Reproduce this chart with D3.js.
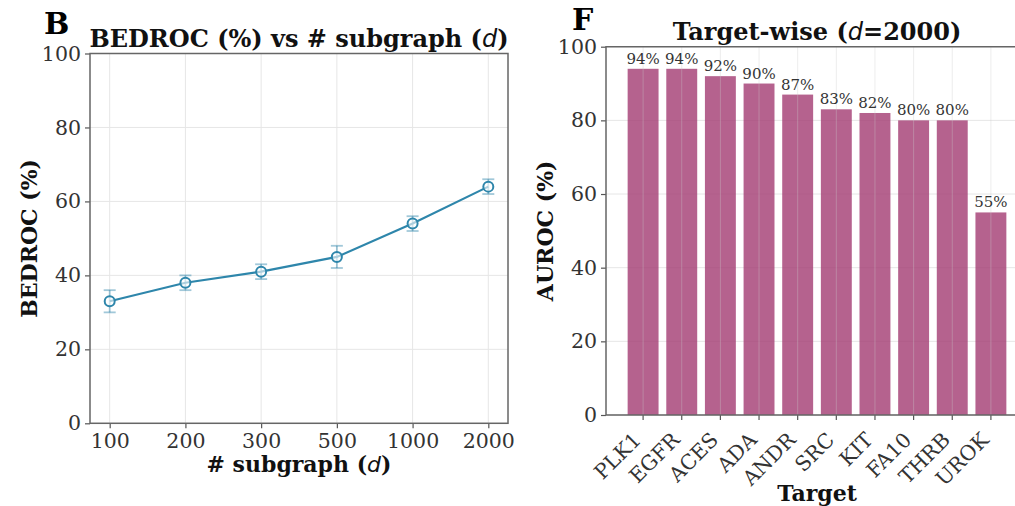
<!DOCTYPE html>
<html>
<head>
<meta charset="utf-8">
<script src="https://cdn.jsdelivr.net/npm/d3@7"></script>
<style>
  body { margin: 0; background: #fff; }
  svg { display: block; font-family: "DejaVu Serif", serif; overflow: hidden; }
  .axis text { fill: #333; font-size: 20.5px; font-family: "DejaVu Serif", serif; }
  .tick line { stroke: #555; stroke-width: 1.2; }
  .axis path.domain { display: none; }
  .grid line { stroke: #e6e6e6; stroke-width: 1; }
  .spine { stroke: #666; stroke-width: 1.5; fill: none; }
  .chart-title { font-weight: bold; font-size: 24px; text-anchor: middle; fill: #111; }
  .axis-title { font-weight: bold; font-size: 22px; text-anchor: middle; fill: #111; }
  .panel-letter { font-weight: bold; font-size: 30px; fill: #000; }
  .math { font-family: "DejaVu Sans", sans-serif; font-style: italic; font-weight: normal; }
  .bar-label { font-size: 15px; fill: #333; text-anchor: middle; }
</style>
</head>
<body>
<svg id="chart" width="1015" height="506"></svg>
<script>
// panel B: BEDROC vs number of subgraphs
const subgraphCats = ['100', '200', '300', '500', '1000', '2000'];
const bedrocMean = [33, 38, 41, 45, 54, 64];
const bedrocErr = [3, 2, 2, 3, 2, 2];

// panel F: target-wise AUROC at d=2000
const targets = ['PLK1', 'EGFR', 'ACES', 'ADA', 'ANDR', 'SRC', 'KIT', 'FA10', 'THRB', 'UROK'];
const aurocValues = [94, 94, 92, 90, 87, 83, 82, 80, 80, 55];

const yTicks = [0, 20, 40, 60, 80, 100];

const lineColor = '#2E86AB';
const barColor = '#A23B72';

const svg = d3.select('#chart');

// draws title with an italic math "d" inside
function mathText(sel, before, after) {
    sel.append('tspan').text(before);
    sel.append('tspan').attr('class', 'math').text('d');
    sel.append('tspan').text(after);
}

// ---------- left panel ----------
{
    const box = { left: 90, right: 508, top: 53.5, bottom: 423.3 };
    const x = d3.scalePoint().domain(subgraphCats).range([box.left, box.right]).padding(0.26);
    const y = d3.scaleLinear().domain([0, 100]).range([box.bottom, box.top]);
    const g = svg.append('g');

    // gridlines
    const grid = g.append('g').attr('class', 'grid');
    grid.selectAll('.gy').data(yTicks).join('line')
        .attr('x1', box.left).attr('x2', box.right)
        .attr('y1', d => y(d)).attr('y2', d => y(d));
    grid.selectAll('.gx').data(subgraphCats).join('line')
        .attr('x1', d => x(d)).attr('x2', d => x(d))
        .attr('y1', box.top).attr('y2', box.bottom);

    // axes
    g.append('g').attr('class', 'axis')
        .attr('transform', `translate(${box.left},0)`)
        .call(d3.axisLeft(y).tickValues(yTicks).tickSize(5).tickPadding(4));
    g.append('g').attr('class', 'axis')
        .attr('transform', `translate(0,${box.bottom})`)
        .call(d3.axisBottom(x).tickSize(5).tickPadding(4))
        .selectAll('text').attr('dy', '0.75em');

    g.append('rect').attr('class', 'spine')
        .attr('x', box.left).attr('y', box.top)
        .attr('width', box.right - box.left).attr('height', box.bottom - box.top);

    const pts = subgraphCats.map((c, i) => ({ c, m: bedrocMean[i], e: bedrocErr[i] }));

    // error bars with caps
    const eb = g.append('g').attr('stroke', lineColor).attr('stroke-opacity', 0.45).attr('stroke-width', 1.8);
    eb.selectAll('.v').data(pts).join('line')
        .attr('x1', d => x(d.c)).attr('x2', d => x(d.c))
        .attr('y1', d => y(d.m - d.e)).attr('y2', d => y(d.m + d.e));
    eb.selectAll('.cap-top').data(pts).join('line')
        .attr('x1', d => x(d.c) - 6).attr('x2', d => x(d.c) + 6)
        .attr('y1', d => y(d.m + d.e)).attr('y2', d => y(d.m + d.e));
    g.append('g').attr('stroke', lineColor).attr('stroke-opacity', 0.45).attr('stroke-width', 1.8)
        .selectAll('line').data(pts).join('line')
        .attr('x1', d => x(d.c) - 6).attr('x2', d => x(d.c) + 6)
        .attr('y1', d => y(d.m - d.e)).attr('y2', d => y(d.m - d.e));

    // line + hollow markers
    g.append('path').datum(pts)
        .attr('fill', 'none').attr('stroke', lineColor).attr('stroke-width', 2.2)
        .attr('d', d3.line().x(d => x(d.c)).y(d => y(d.m)));
    g.selectAll('.pt').data(pts).join('circle')
        .attr('cx', d => x(d.c)).attr('cy', d => y(d.m)).attr('r', 5)
        .attr('fill', '#fff').attr('fill-opacity', 0.6)
        .attr('stroke', lineColor).attr('stroke-width', 2);

    // texts
    svg.append('text').attr('class', 'panel-letter').attr('x', 44).attr('y', 34).text('B');
    mathText(svg.append('text').attr('class', 'chart-title')
        .attr('x', (box.left + box.right) / 2).attr('y', 47), 'BEDROC (%) vs # subgraph (', ')');
    mathText(svg.append('text').attr('class', 'axis-title')
        .attr('x', (box.left + box.right) / 2).attr('y', 472), '# subgraph (', ')');
    svg.append('text').attr('class', 'axis-title')
        .attr('transform', `translate(37,${(box.top + box.bottom) / 2}) rotate(-90)`)
        .text('BEDROC (%)');
}

// ---------- right panel ----------
{
    const box = { left: 606, right: 1028, top: 46.7, bottom: 415 };
    const x = d3.scaleBand().domain(targets).range([box.left, box.right])
        .paddingInner(0.2).paddingOuter(0.56);
    const y = d3.scaleLinear().domain([0, 100]).range([box.bottom, box.top]);
    const g = svg.append('g');

    const grid = g.append('g').attr('class', 'grid');
    grid.selectAll('.gy').data(yTicks).join('line')
        .attr('x1', box.left).attr('x2', box.right)
        .attr('y1', d => y(d)).attr('y2', d => y(d));

    const data = targets.map((t, i) => ({ t, v: aurocValues[i] }));

    g.selectAll('.bar').data(data).join('rect')
        .attr('x', d => x(d.t)).attr('width', x.bandwidth())
        .attr('y', d => y(d.v)).attr('height', d => y(0) - y(d.v))
        .attr('fill', barColor).attr('fill-opacity', 0.8);

    // vertical grid shows faintly over bars
    g.append('g').selectAll('line').data(targets).join('line')
        .attr('x1', d => x(d) + x.bandwidth() / 2).attr('x2', d => x(d) + x.bandwidth() / 2)
        .attr('y1', box.top).attr('y2', box.bottom)
        .attr('stroke', '#ccc').attr('stroke-opacity', 0.35);

    g.selectAll('.bar-label').data(data).join('text')
        .attr('class', 'bar-label')
        .attr('x', d => x(d.t) + x.bandwidth() / 2)
        .attr('y', d => y(d.v) - 5)
        .text(d => d.v + '%');

    g.append('g').attr('class', 'axis')
        .attr('transform', `translate(${box.left},0)`)
        .call(d3.axisLeft(y).tickValues(yTicks).tickSize(5).tickPadding(4));
    g.append('g').attr('class', 'axis')
        .attr('transform', `translate(0,${box.bottom})`)
        .call(d3.axisBottom(x).tickSize(5).tickPadding(5))
        .selectAll('text')
        .attr('text-anchor', 'end')
        .attr('dy', '0.35em')
        .attr('transform', 'translate(-13,14) rotate(-45)');

    g.append('path').attr('class', 'spine')
        .attr('d', `M${box.right},${box.top}H${box.left}V${box.bottom}H${box.right}`);

    svg.append('text').attr('class', 'panel-letter').attr('x', 572).attr('y', 30).text('F');
    mathText(svg.append('text').attr('class', 'chart-title')
        .attr('x', (box.left + box.right) / 2).attr('y', 40), 'Target-wise (', '=2000)');
    svg.append('text').attr('class', 'axis-title')
        .attr('x', (box.left + box.right) / 2).attr('y', 501).text('Target');
    svg.append('text').attr('class', 'axis-title')
        .attr('transform', `translate(553,${(box.top + box.bottom) / 2}) rotate(-90)`)
        .text('AUROC (%)');
}
</script>
</body>
</html>
